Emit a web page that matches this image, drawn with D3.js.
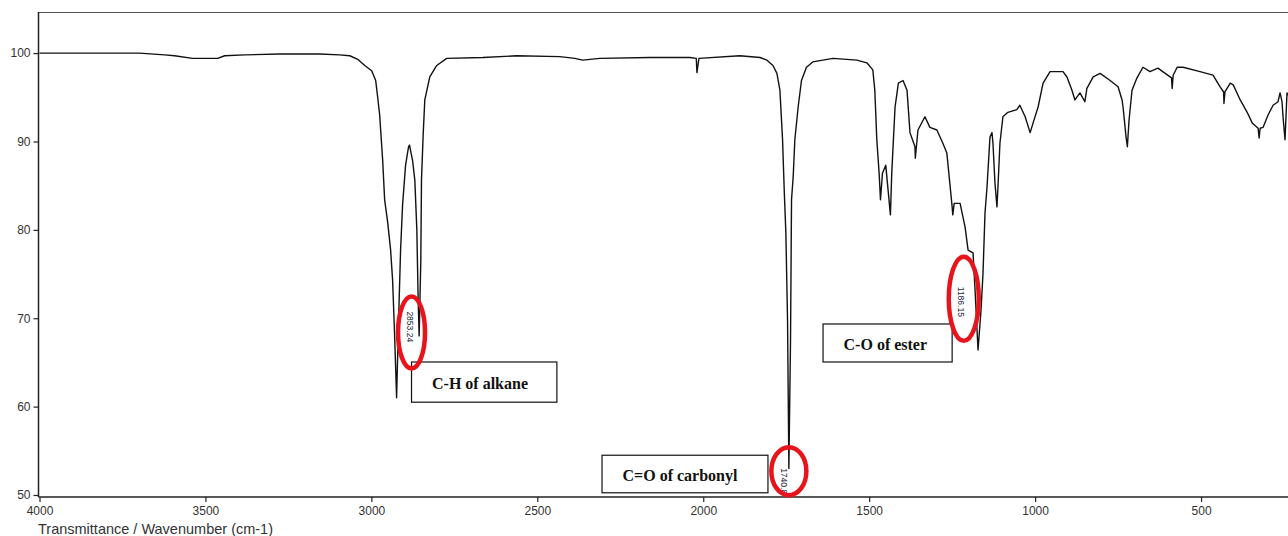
<!DOCTYPE html>
<html>
<head>
<meta charset="utf-8">
<script src="https://cdn.jsdelivr.net/npm/d3@7/dist/d3.min.js"></script>
<style>
  body { margin: 0; background: #fff; }
  svg { display: block; }
</style>
</head>
<body>
<svg id="chart"></svg>
<script>
// wavenumber (cm-1) and transmittance (%)
const wavenumber = [
  4000, 3940, 3819, 3699, 3623, 3593, 3539, 3503, 3463, 3442, 3382, 3276, 3156, 3096, 3065, 3041, 3020, 2999,
  2987, 2981, 2975, 2966, 2960, 2951, 2942, 2936, 2930, 2924, 2918, 2912, 2906, 2897, 2888, 2885, 2882, 2876,
  2869, 2863, 2859, 2856, 2851, 2849, 2844, 2839, 2824, 2803, 2773, 2664, 2562, 2432, 2387, 2363, 2312, 2161,
  2040, 2021, 2019, 2013, 1890, 1829, 1808, 1790, 1778, 1769, 1761, 1756, 1751, 1746, 1742, 1737, 1734, 1729,
  1724, 1714, 1704, 1689, 1670, 1609, 1537, 1507, 1489, 1483, 1477, 1470, 1466, 1460, 1450, 1443, 1436, 1432,
  1427, 1422, 1412, 1398, 1386, 1377, 1362, 1361, 1353, 1332, 1317, 1296, 1278, 1266, 1251, 1248, 1244, 1226,
  1211, 1202, 1187, 1181, 1172, 1163, 1157, 1151, 1145, 1136, 1130, 1127, 1121, 1115, 1112, 1106, 1097, 1082,
  1055, 1046, 1030, 1015, 1006, 991, 976, 955, 916, 904, 889, 880, 865, 850, 844, 825, 804, 774, 750, 738, 735,
  726, 722, 717, 708, 693, 675, 654, 630, 608, 589, 587, 584, 572, 554, 503, 464, 443, 432, 431, 428, 412, 403,
  382, 361, 346, 328, 325, 322, 313, 298, 283, 268, 262, 256, 253, 247, 241, 238
];
const transmittance = [
  100, 100, 100, 100, 99.8, 99.7, 99.4, 99.4, 99.4, 99.7, 99.8, 99.9, 99.9, 99.8, 99.7, 99.3, 98.6, 98.0,
  96.9, 95.0, 93.0, 87.9, 83.4, 80.9, 77.7, 74.3, 68.1, 61.0, 69.8, 77.7, 82.8, 87.3, 89.4, 89.6, 89.0, 87.9,
  85.6, 80.0, 72.1, 68.0, 76.6, 85.6, 90.7, 94.7, 97.3, 98.6, 99.4, 99.5, 99.7, 99.6, 99.4, 99.2, 99.4, 99.5,
  99.5, 99.4, 97.8, 99.4, 99.7, 99.5, 99.2, 98.6, 97.7, 95.8, 90.2, 84.5, 79.6, 69.8, 53.0, 67.5, 83.4, 86.0,
  90.2, 93.9, 96.9, 98.4, 99.0, 99.4, 99.2, 98.9, 98.1, 95.8, 90.2, 86.4, 83.4, 86.4, 87.3, 84.5, 81.7, 86.4,
  90.2, 93.9, 96.6, 96.9, 95.8, 91.0, 89.4, 88.1, 91.3, 92.8, 91.6, 91.3, 89.8, 88.7, 83.0, 81.7, 83.0, 83.0,
  80.3, 77.7, 77.4, 73.2, 66.4, 70.9, 75.1, 81.9, 84.8, 90.5, 91.0, 89.8, 85.3, 82.6, 84.8, 89.8, 92.8, 93.3,
  93.6, 94.1, 92.8, 91.0, 92.1, 93.9, 96.6, 97.9, 97.9, 97.3, 95.8, 94.7, 95.5, 94.5, 96.0, 97.3, 97.7, 96.9, 96.2, 94.7, 93.9,
  90.5, 89.4, 92.4, 95.8, 97.2, 98.4, 97.9, 98.3, 97.7, 97.2, 96.0, 97.5, 98.4, 98.4, 97.9, 97.5, 96.2, 95.6, 94.3, 95.6, 96.6, 96.4,
  94.7, 93.3, 92.1, 91.5, 90.4, 91.5, 91.6, 93.0, 94.1, 94.5, 95.5, 94.5, 92.8, 90.2, 95.5, 95.2
];

const xTicks = [4000, 3500, 3000, 2500, 2000, 1500, 1000, 500];
const yTicks = [50, 60, 70, 80, 90, 100];

// labelled bands: box corners and marker ellipse given in data units
const bandLabels = ["C-H of alkane", "C=O of carbonyl", "C-O of ester"];
const peakLabels = ["2853.24", "1740.8", "1186.15"];

const annotations = [
  { box: [2879, 2441, 65.05, 60.5], ring: [2879, 68.4], rx: 13.5, ry: 36, dx: -5, dy: -21 },
  { box: [2305, 1805, 54.5, 50.25], ring: [1742, 52.7], rx: 17.5, ry: 24, dx: -8, dy: -3 },
  { box: [1639, 1250, 69.35, 65.05], ring: [1215, 72.2], rx: 15, ry: 42, dx: -6, dy: -12 }
];

const W = 1288, H = 536;
const svg = d3.select('#chart').attr('width', W).attr('height', H);

const x = d3.scaleLinear().domain([4000, 238]).range([39.5, 1288]);
const y = d3.scaleLinear().domain([50, 104.65]).range([495, 12]);

const axisColor = '#222';

// top frame line
svg.append('line')
  .attr('x1', x(4000) - 1).attr('x2', W)
  .attr('y1', y(104.65) + 0.5).attr('y2', y(104.65) + 0.5)
  .attr('stroke', '#555').attr('stroke-width', 1.2);

const yAxis = svg.append('g')
  .attr('transform', `translate(${x(4000) - 1},0)`)
  .call(d3.axisLeft(y).tickValues(yTicks).tickSize(5).tickSizeOuter(0).tickFormat(d3.format('d')));
yAxis.select('.domain').attr('stroke', axisColor).attr('stroke-width', 1.5)
  .attr('d', `M0,${y(104.65)}V${y(50) + 2}`);

const xAxis = svg.append('g')
  .attr('transform', `translate(0,${y(50) + 2})`)
  .call(d3.axisBottom(x).tickValues(xTicks).tickSize(5).tickSizeOuter(0).tickPadding(4).tickFormat(d3.format('d')));
xAxis.select('.domain').attr('stroke', axisColor).attr('stroke-width', 1.5)
  .attr('d', `M${x(4000) - 1},0H${W}`);

[xAxis, yAxis].forEach(g => {
  g.selectAll('.tick line').attr('stroke', axisColor).attr('stroke-width', 1.2);
  g.selectAll('.tick text')
    .attr('fill', '#333')
    .style('font-family', 'Liberation Sans, Arial, sans-serif')
    .style('font-size', '12px');
});

svg.append('text')
  .attr('x', 38).attr('y', 534)
  .attr('fill', '#333')
  .style('font-family', 'Liberation Sans, Arial, sans-serif')
  .style('font-size', '14.5px')
  .text('Transmittance / Wavenumber (cm-1)');

// spectrum
const pts = wavenumber.map((w, i) => [w, transmittance[i]]);
const line = d3.line().x(d => x(d[0])).y(d => y(d[1]));
svg.append('path')
  .datum(pts)
  .attr('d', line)
  .attr('fill', 'none')
  .attr('stroke', '#111')
  .attr('stroke-width', 1.4)
  .attr('stroke-linejoin', 'round');

// clip for things that run into the axis
svg.append('clipPath').attr('id', 'plotclip')
  .append('rect').attr('x', 0).attr('y', 0).attr('width', W).attr('height', y(50) + 1);
const labelLayer = svg.append('g').attr('clip-path', 'url(#plotclip)');

annotations.forEach((a, i) => {
  const [w0, w1, t0, t1] = a.box;
  svg.append('rect')
    .attr('x', x(w0)).attr('y', y(t0))
    .attr('width', x(w1) - x(w0)).attr('height', y(t1) - y(t0))
    .attr('fill', '#fff').attr('stroke', '#111').attr('stroke-width', 1.2);
  svg.append('text')
    .attr('x', x(w0) + 20.5)
    .attr('y', (y(t0) + y(t1)) / 2 + 1.5)
    .attr('dominant-baseline', 'central')
    .style('font-family', 'Liberation Serif, Times New Roman, serif')
    .style('font-weight', 'bold')
    .style('font-size', '16px')
    .attr('fill', '#111')
    .text(bandLabels[i]);

  const cx = x(a.ring[0]), cy = y(a.ring[1]);
  labelLayer.append('text')
    .attr('transform', `translate(${cx + a.dx},${cy + a.dy}) rotate(90)`)
    .style('font-family', 'Liberation Sans, Arial, sans-serif')
    .style('font-size', '8.5px')
    .attr('fill', '#223')
    .text(peakLabels[i]);
  svg.append('ellipse')
    .attr('cx', cx).attr('cy', cy)
    .attr('rx', a.rx).attr('ry', a.ry)
    .attr('fill', 'none')
    .attr('stroke', '#e8141c')
    .attr('stroke-width', 4.5);
});
</script>
</body>
</html>
